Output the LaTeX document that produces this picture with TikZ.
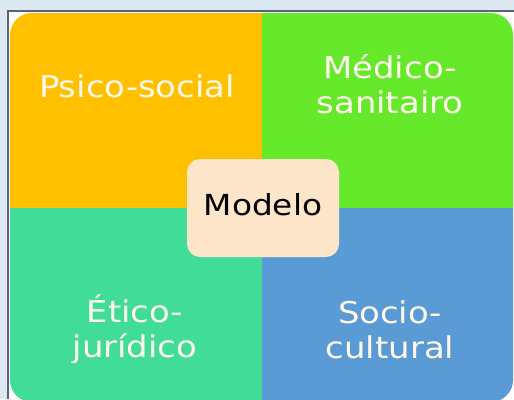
\documentclass[tikz,border=0pt]{standalone}
\usepackage{fontspec}
\newfontfamily\quadfont[FakeStretch=1.13]{DejaVu Sans}
\usepackage{xcolor}
\usetikzlibrary{positioning}

\definecolor{framebg}{HTML}{DCE8F2}
\definecolor{frameline}{HTML}{5A6470}
\definecolor{psicocol}{HTML}{FFC000}
\definecolor{medicocol}{HTML}{66E82B}
\definecolor{eticocol}{HTML}{41DC98}
\definecolor{sociocol}{HTML}{5B9BD5}
\definecolor{modelocol}{HTML}{FDE5CA}
\definecolor{labelcol}{HTML}{FFF8EC}

\begin{document}
\begin{tikzpicture}[x=1pt,y=-1pt,
    quad/.style={inner sep=0pt,minimum width=252pt,minimum height=196pt},
    quadtext/.style={text=labelcol,align=center,
      font=\quadfont\fontsize{30}{35}\selectfont},
    modelobox/.style={fill=modelocol,rounded corners=13pt,
      minimum width=152pt,minimum height=98pt,text height=18pt,text depth=4pt,
      font=\quadfont\fontsize{29}{35}\selectfont}]
  \useasboundingbox (0,0) rectangle (514,399);
  % window frame
  \fill[framebg] (0,0) rectangle (514,399);
  \fill[white] (8,11) rectangle (514,399);
  \path[draw=frameline,line width=1.2pt] (8,399) -- (8,11) -- (514,11);
  % the four quadrants
  \begin{scope}
    \clip[rounded corners=22pt] (10,13) rectangle (513,402);
    \node[quad,fill=psicocol]  (psicoq)  at (136,110.5) {};
    \node[quad,fill=medicocol] (medicoq) at (388,110.5) {};
    \node[quad,fill=eticocol]  (eticoq)  at (136,306) {};
    \node[quad,fill=sociocol]  (socioq)  at (388,306) {};
  \end{scope}
  \node[quadtext] (psico)  at (137,86)  {Psico-social};
  \node[quadtext] (medico) at (390,84)  {Médico-\\sanitairo};
  \node[quadtext] (etico)  at (135,329) {Ético-\\jurídico};
  \node[quadtext] (socio)  at (390,330) {Socio-\\cultural};
  % centre
  \node[modelobox] (modelo) at (263,208) {Modelo};
\end{tikzpicture}
\end{document}
